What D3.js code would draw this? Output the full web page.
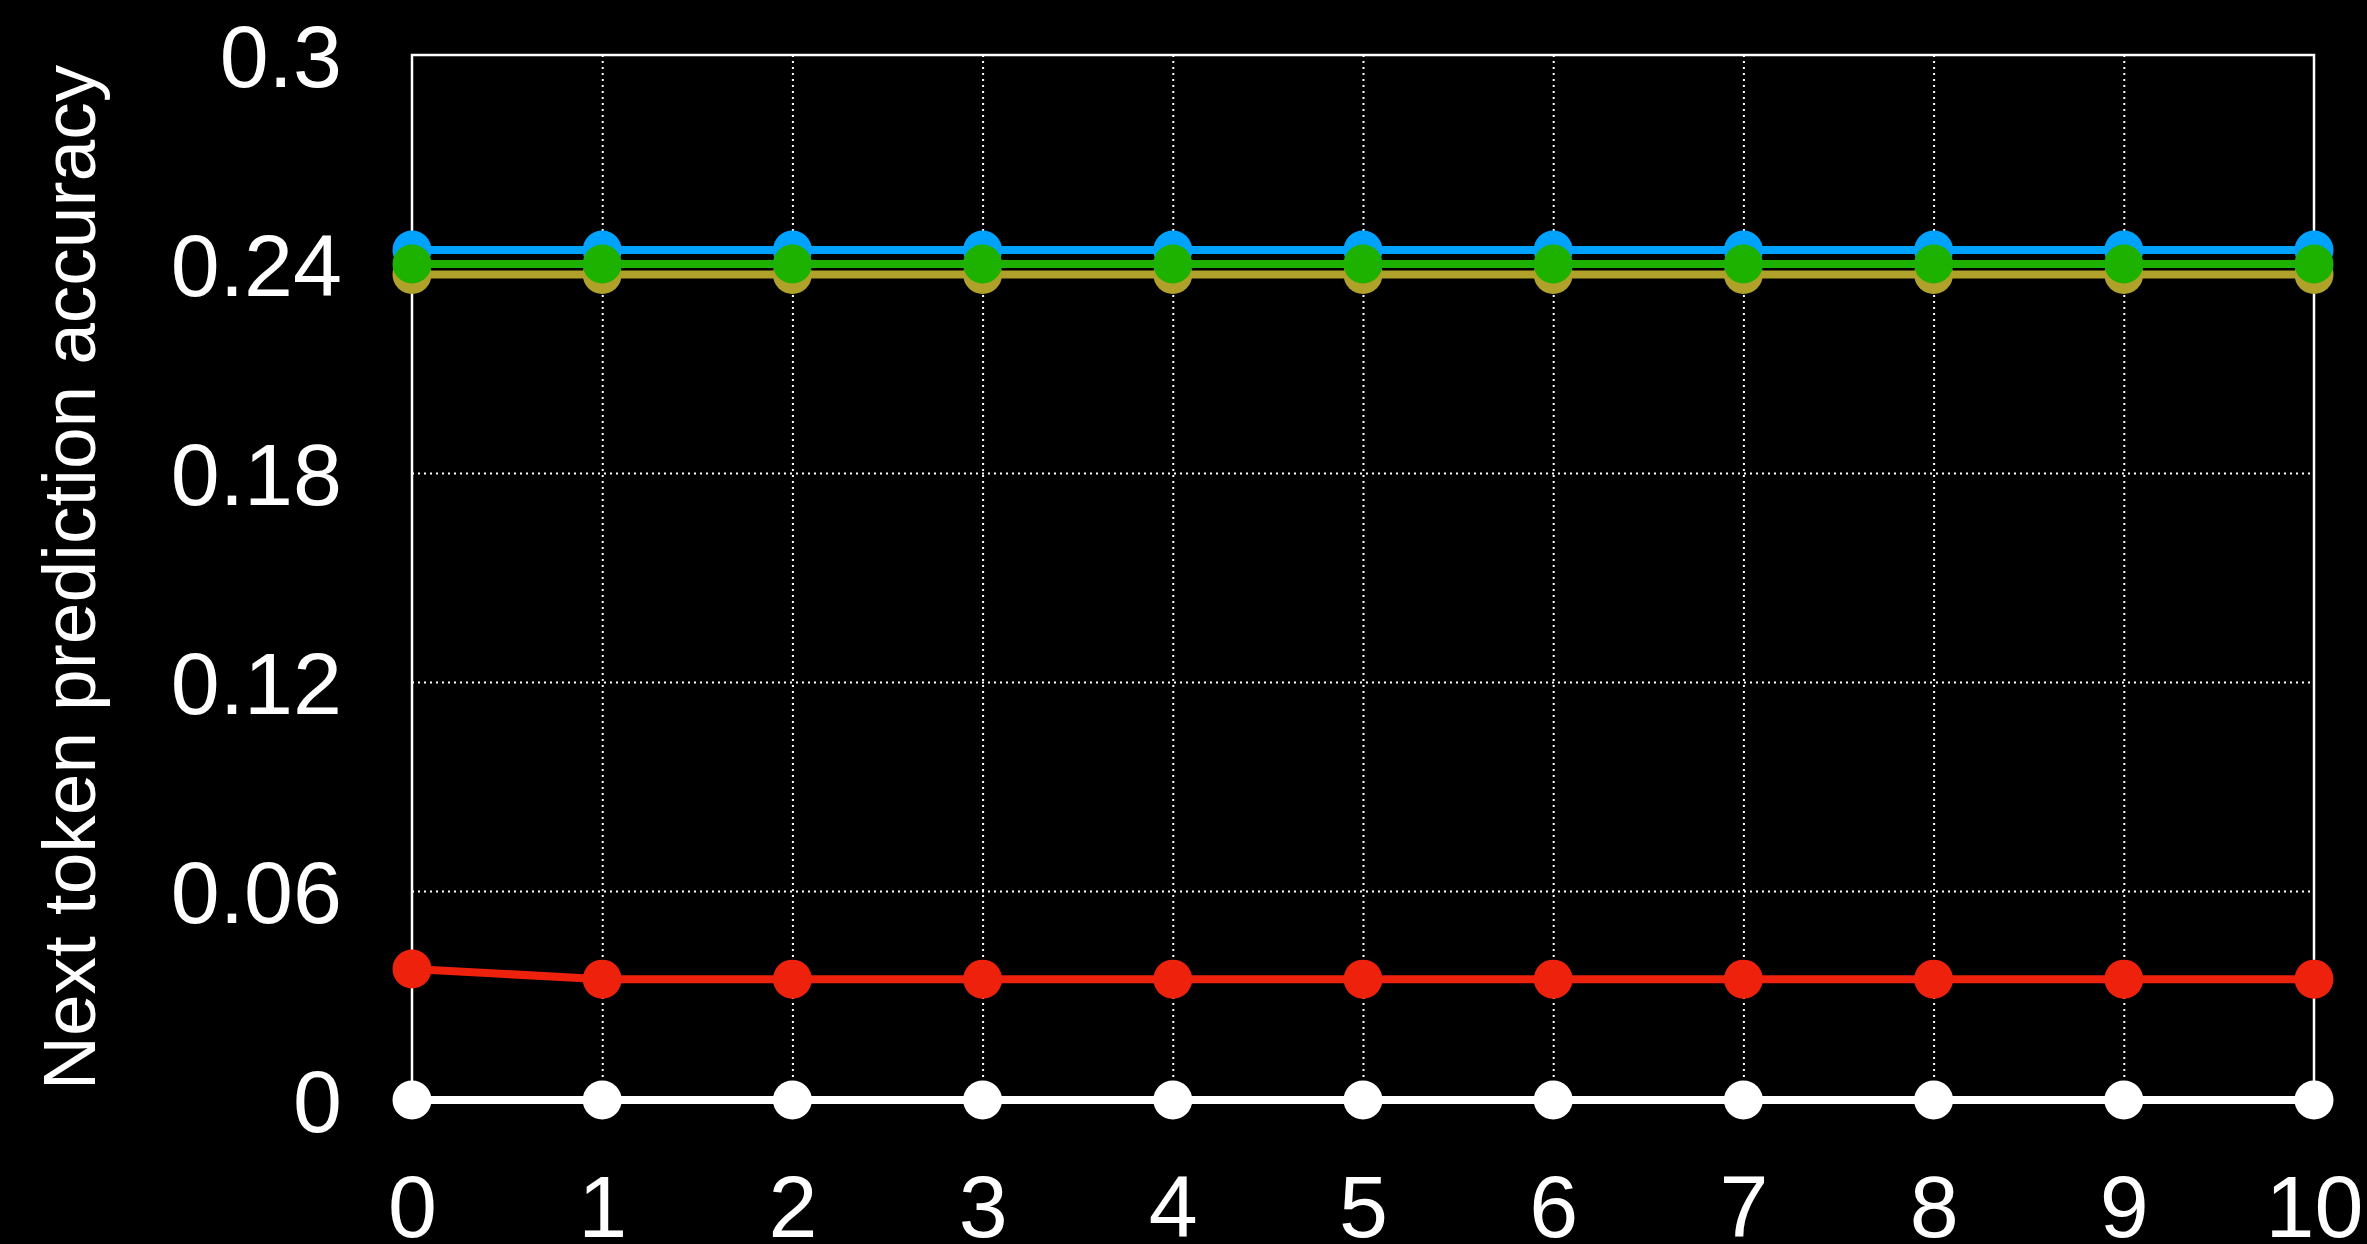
<!DOCTYPE html>
<html>
<head>
<meta charset="utf-8">
<script src="https://cdn.jsdelivr.net/npm/d3@7"></script>
<style>
  html, body { margin: 0; padding: 0; background: #000; }
  svg { display: block; }
  text { font-family: "Liberation Sans", Helvetica, Arial, sans-serif; fill: #fff; }
</style>
</head>
<body>
<svg id="chart"></svg>
<script>
// data
var steps = [0, 1, 2, 3, 4, 5, 6, 7, 8, 9, 10];
var blueVals  = [0.244, 0.244, 0.244, 0.244, 0.244, 0.244, 0.244, 0.244, 0.244, 0.244, 0.244];
var oliveVals = [0.237, 0.237, 0.237, 0.237, 0.237, 0.237, 0.237, 0.237, 0.237, 0.237, 0.237];
var greenVals = [0.240, 0.240, 0.240, 0.240, 0.240, 0.240, 0.240, 0.240, 0.240, 0.240, 0.240];
var redVals   = [0.0376, 0.0347, 0.0347, 0.0347, 0.0347, 0.0347, 0.0347, 0.0347, 0.0347, 0.0347, 0.0347];
var whiteVals = [0, 0, 0, 0, 0, 0, 0, 0, 0, 0, 0];
var yTicks = [0, 0.06, 0.12, 0.18, 0.24, 0.3];
var yTickLabels = ["0", "0.06", "0.12", "0.18", "0.24", "0.3"];
var yTitle = "Next token prediction accuracy";

var margin = {top: 55, right: 53, bottom: 144, left: 412},
    W = 2367, H = 1244,
    width = W - margin.left - margin.right,
    height = H - margin.top - margin.bottom;

var svg = d3.select("#chart")
    .attr("width", W)
    .attr("height", H);

svg.append("rect").attr("width", W).attr("height", H).attr("fill", "#000");

var g = svg.append("g")
    .attr("transform", "translate(" + margin.left + "," + margin.top + ")");

var x = d3.scaleLinear().domain([0, 10]).range([0, width]);
var y = d3.scaleLinear().domain([0, 0.3]).range([height, 0]);

// dotted grid
var xGrid = g.append("g")
    .attr("transform", "translate(0," + height + ")")
    .call(d3.axisBottom(x).tickValues(steps.slice(1, -1)).tickSize(height).tickFormat(""));
xGrid.attr("transform", "translate(0,0)");
xGrid.select(".domain").remove();
xGrid.selectAll(".tick line")
    .attr("y1", 0).attr("y2", height)
    .attr("stroke", "#fff").attr("stroke-width", 2).attr("stroke-dasharray", "2,4");

var yGrid = g.append("g")
    .call(d3.axisLeft(y).tickValues(yTicks.slice(1, -1)).tickSize(-width).tickFormat(""));
yGrid.select(".domain").remove();
yGrid.selectAll(".tick line")
    .attr("stroke", "#fff").attr("stroke-width", 2).attr("stroke-dasharray", "2,4");

// frame
g.append("rect")
    .attr("width", width).attr("height", height)
    .attr("fill", "none").attr("stroke", "#fff").attr("stroke-width", 2.5);

// y axis labels
var yAxis = g.append("g")
    .call(d3.axisLeft(y).tickValues(yTicks).tickSize(0).tickPadding(70)
        .tickFormat(function (d, i) { return yTickLabels[i]; }));
yAxis.select(".domain").remove();
yAxis.selectAll(".tick text")
    .attr("fill", "#fff")
    .style("font-size", "88px")
    .style("font-family", "'Liberation Sans', Helvetica, Arial, sans-serif")
    .attr("dy", "0.36em");

// x axis labels
var xAxis = g.append("g")
    .attr("transform", "translate(0," + height + ")")
    .call(d3.axisBottom(x).tickValues(steps).tickSize(0).tickPadding(0));
xAxis.select(".domain").remove();
xAxis.selectAll(".tick text")
    .attr("fill", "#fff")
    .attr("y", 137)
    .attr("dy", 0)
    .style("font-size", "88px")
    .style("font-family", "'Liberation Sans', Helvetica, Arial, sans-serif");

// y title
svg.append("text")
    .attr("transform", "translate(95," + (margin.top + height / 2) + ") rotate(-90)")
    .attr("text-anchor", "middle")
    .style("font-size", "75px")
    .text(yTitle);

// series
var series = [
  {vals: whiteVals, color: "#ffffff"},
  {vals: redVals,   color: "#ee220c"},
  {vals: blueVals,  color: "#00a2ff"},
  {vals: oliveVals, color: "#afa12a"},
  {vals: greenVals, color: "#1db100"}
];

var line = d3.line()
    .x(function (d, i) { return x(steps[i]); })
    .y(function (d) { return y(d); });

series.forEach(function (s) {
  var sg = g.append("g");
  sg.append("path")
    .datum(s.vals)
    .attr("d", line)
    .attr("fill", "none")
    .attr("stroke", s.color)
    .attr("stroke-width", 8);
  sg.selectAll("circle")
    .data(s.vals)
    .enter()
    .append("circle")
      .attr("cx", function (d, i) { return x(steps[i]); })
      .attr("cy", function (d) { return y(d); })
      .attr("r", 19.5)
      .attr("fill", s.color);
});
</script>
</body>
</html>
